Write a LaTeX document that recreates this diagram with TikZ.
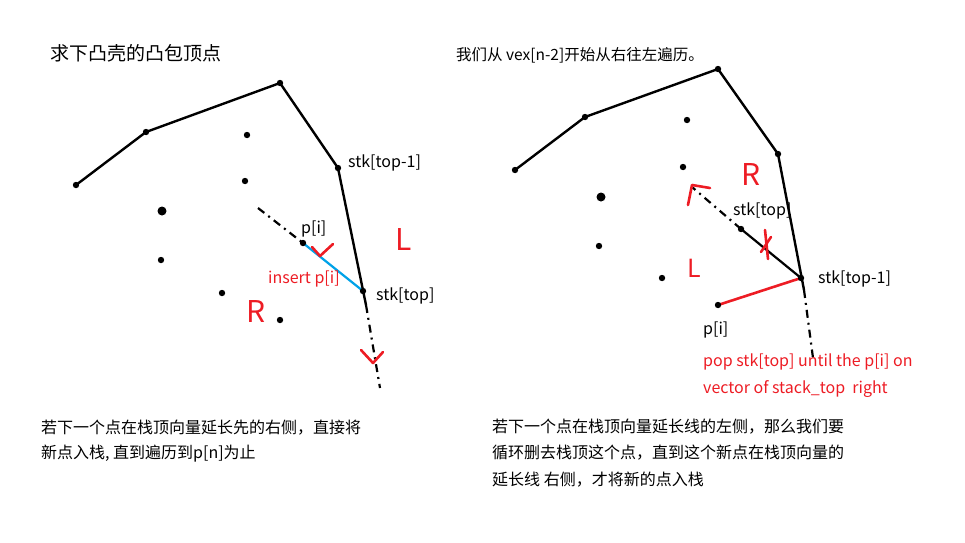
\documentclass[tikz,border=0pt]{standalone}
\usepackage{fontspec}
\setmainfont{Noto Sans CJK SC}
\definecolor{paintred}{RGB}{237,28,36}
\definecolor{paintblue}{RGB}{0,162,232}
\begin{document}
\begin{tikzpicture}[x=1pt,y=-1pt,
  hull/.style={line width=2.4pt, line join=round},
  guide/.style={line width=2.2pt, dash pattern=on 8pt off 5pt on 2pt off 5pt},
  ink/.style={paintred, line width=2.6pt, line cap=round, line join=round},
  lbl/.style={anchor=west, inner sep=0pt, font=\fontsize{16}{16}\selectfont},
  note/.style={anchor=west, inner sep=0pt, font=\fontsize{16}{16}\selectfont},
  hand/.style={inner sep=0pt, text=paintred, font=\fontsize{30}{30}\selectfont}]
\useasboundingbox (0,0) rectangle (965,542);
% left picture: p[i] goes in
\node[anchor=west, inner sep=0pt, font=\fontsize{19}{19}\selectfont] (title1) at (50,53) {求下凸壳的凸包顶点};
\coordinate (a1) at (76,185);
\coordinate (b1) at (146,132);
\coordinate (c1) at (280,83);
\coordinate (d1) at (338,168);
\coordinate (e1) at (363,291);
\coordinate (f1) at (366,305);
\coordinate (g1) at (380,388);
\coordinate (h1) at (258,208);
\coordinate (p1) at (303,243);
\draw[hull] (a1) -- (b1) -- (c1) -- (d1) -- (f1);
\draw[guide] (f1) -- (g1);
\draw[guide] (h1) -- (p1);
\draw[paintblue, line width=2.2pt] (p1) -- (e1);
\foreach \p in {a1,b1,c1,d1,e1,p1} \fill (\p) circle (3.2);
\foreach \p in {(247,135),(245,181),(161,260),(222,293),(280,320)} \fill \p circle (3.2);
\fill (162,211) circle (4.5);
\draw[ink] (312,247) -- (320,256) -- (333,244);
\draw[ink] (361,350) -- (373,363) -- (383,352);
\node[lbl] (lp1) at (301,229) {p[i]};
\node[lbl] (ltop1) at (376,296) {stk[top]};
\node[lbl] (lsub1) at (348,163) {stk[top-1]};
\node[lbl, text=paintred] (ins1) at (268,279) {insert p[i]};
\node[hand] (L1) at (404,239) {L};
\node[hand] (R1) at (256,311) {R};
\node[note] (n1) at (41,428) {若下一个点在栈顶向量延长先的右侧，直接将};
\node[note] (n2) at (41,454) {新点入栈, 直到遍历到p[n]为止};
% right picture: stk[top] is popped
\node[anchor=west, inner sep=0pt, font=\fontsize{15.5}{15.5}\selectfont] (title2) at (456,55) {我们从 vex[n-2]开始从右往左遍历。};
\coordinate (a2) at (515,170);
\coordinate (b2) at (585,117);
\coordinate (c2) at (718,69);
\coordinate (d2) at (778,154);
\coordinate (e2) at (801,278);
\coordinate (f2) at (804,290);
\coordinate (g2) at (813,358);
\coordinate (s2) at (741,229);
\coordinate (h2) at (692,187);
\coordinate (p2) at (718,305);
\draw[hull] (a2) -- (b2) -- (c2) -- (d2) -- (f2);
\draw[guide] (f2) -- (g2);
\draw[line width=2.2pt] (s2) -- (e2);
\draw[guide] (s2) -- (h2);
\draw[ink] (p2) -- (e2);
\foreach \p in {a2,b2,c2,d2,e2,s2,p2} \fill (\p) circle (3.2);
\foreach \p in {(687,120),(683,167),(599,246),(662,278)} \fill \p circle (3.2);
\fill (601,197) circle (4.5);
\draw[ink] (688,205) -- (692,185) -- (710,188);
\draw[ink] (765,230) -- (768,259);
\draw[ink] (771,237) -- (761,252);
\node[lbl] (ltop2) at (733,211) {stk[top]};
\node[lbl] (lsub2) at (818,279) {stk[top-1]};
\node[lbl] (lp2) at (703,330) {p[i]};
\node[lbl, text=paintred] (pop2) at (703,362) {pop stk[top] until the p[i] on};
\node[lbl, text=paintred] (vec2) at (703,389) {vector of stack\_top\ \ right};
\node[hand] (R2) at (751,174) {R};
\node[hand, font=\fontsize{25}{25}\selectfont] (L2) at (694,268) {L};
\node[note] (m1) at (492,427) {若下一个点在栈顶向量延长线的左侧，那么我们要};
\node[note] (m2) at (492,453) {循环删去栈顶这个点，直到这个新点在栈顶向量的};
\node[note] (m3) at (492,480) {延长线 右侧，才将新的点入栈};
\end{tikzpicture}
\end{document}
